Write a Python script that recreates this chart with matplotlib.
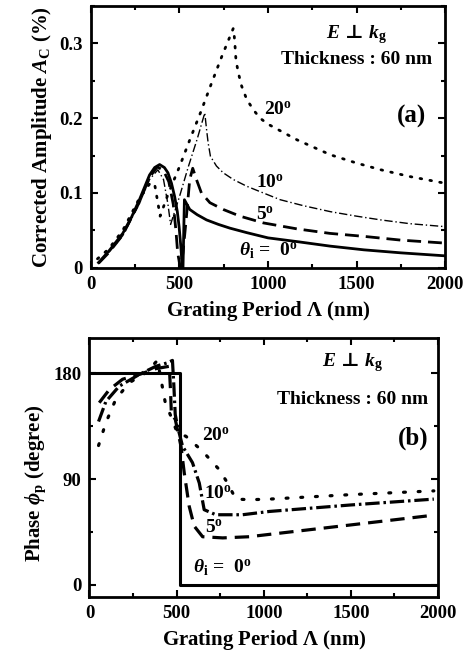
import matplotlib
matplotlib.use("Agg")
import matplotlib.pyplot as plt
from matplotlib.ticker import MultipleLocator

plt.rcParams['font.family'] = ['Liberation Serif', 'DejaVu Serif']
plt.rcParams['font.weight'] = 'bold'
plt.rcParams['mathtext.fontset'] = 'custom'
plt.rcParams['mathtext.rm'] = 'Liberation Serif:bold'
plt.rcParams['mathtext.it'] = 'Liberation Serif:italic:bold'
plt.rcParams['mathtext.bf'] = 'Liberation Serif:bold'
plt.rcParams['mathtext.sf'] = 'DejaVu Serif:bold'
plt.rcParams['mathtext.fallback'] = 'stix'

# ---------------- Data: panel (a) corrected amplitude ----------------
a0_x = [43, 100, 180, 230, 274, 331, 360, 388, 415, 435, 455, 473, 488, 498, 508, 516, 520, 528,
        558, 600, 653, 720, 785, 880, 1000, 1164, 1350, 1542, 1750, 2000]
a0_y = [0.007, 0.022, 0.046, 0.068, 0.091, 0.124, 0.134, 0.138, 0.134, 0.127, 0.113, 0.095, 0.075,
        0.055, 0.028, 0.0, 0.0, 0.091, 0.078, 0.071, 0.064, 0.058, 0.053, 0.047, 0.040, 0.035,
        0.029, 0.024, 0.020, 0.016]

a5_x = [43, 100, 180, 274, 331, 375, 410, 440, 465, 480, 490, 505, 520, 540, 558, 575, 596, 624,
        672, 747, 842, 974, 1164, 1350, 1542, 1750, 2000]
a5_y = [0.006, 0.020, 0.044, 0.088, 0.121, 0.135, 0.130, 0.115, 0.085, 0.050, 0.020, 0.0, 0.02,
        0.07, 0.118, 0.133, 0.118, 0.100, 0.087, 0.078, 0.069, 0.060, 0.052, 0.046, 0.042, 0.037,
        0.033]

a10_x = [43, 100, 180, 274, 331, 378, 410, 435, 450, 500, 550, 600, 643, 653, 662, 675, 709, 747,
         804, 880, 974, 1069, 1200, 1353, 1500, 1637, 1800, 2000]
a10_y = [0.006, 0.020, 0.043, 0.086, 0.118, 0.131, 0.118, 0.085, 0.058, 0.095, 0.135, 0.172, 0.207,
         0.185, 0.167, 0.149, 0.136, 0.127, 0.118, 0.109, 0.100, 0.091, 0.083, 0.075, 0.069, 0.064,
         0.059, 0.055]

a20_x = [37, 100, 180, 274, 331, 359, 378, 391, 435, 500, 560, 620, 680, 740, 804, 808, 814, 819,
         832, 851, 880, 918, 955, 1000, 1164, 1353, 1500, 1637, 1800, 2000]
a20_y = [0.012, 0.025, 0.050, 0.093, 0.112, 0.113, 0.087, 0.069, 0.098, 0.135, 0.172, 0.208, 0.246,
         0.283, 0.320, 0.314, 0.296, 0.278, 0.261, 0.243, 0.225, 0.211, 0.200, 0.192, 0.171, 0.151,
         0.140, 0.131, 0.122, 0.113]

# ---------------- Data: panel (b) phase ----------------
p0_x = [0, 520, 520, 2000]
p0_y = [180, 180, 0, 0]

p5_x = [56, 113, 190, 285, 381, 458, 465, 470, 492, 525, 544, 572, 601, 649, 764, 917, 1032, 1497, 1956]
p5_y = [155, 166, 175, 179, 184, 186, 165, 145, 141, 118, 95, 67, 50, 41, 40, 41, 43, 51, 59]

p10_x = [52, 94, 170, 285, 381, 448, 476, 484, 492, 505, 534, 591, 630, 658, 725, 878, 1032, 1497, 1976]
p10_y = [139, 156, 169, 179, 186, 189, 191, 170, 145, 135, 118, 104, 86.7, 64, 59.7, 59.7, 62.5, 68, 73]

p20_x = [52, 94, 151, 228, 324, 390, 410, 435, 467, 505, 553, 649, 745, 792, 840, 923, 1032, 1497, 1976]
p20_y = [118.6, 138, 158, 172, 180.6, 191, 175, 155, 143.6, 129, 126.5, 113.7, 98, 86.7, 73, 72.5, 73,
         76.8, 80]

x_ticks = [0, 500, 1000, 1500, 2000]
a_yticks = [0, 0.1, 0.2, 0.3]
a_yticklabels = ['0', '0.1', '0.2', '0.3']
p_yticks = [0, 90, 180]

fig = plt.figure(figsize=(4.71, 6.58), dpi=100)
ax1 = fig.add_axes([0.193, 0.593, 0.752, 0.398])
ax2 = fig.add_axes([0.190, 0.0932, 0.740, 0.393])

TICK_FS = 13.5
LABEL_FS = 15
ANN_FS = 14

def style(ax):
    for s in ax.spines.values():
        s.set_linewidth(2.0)
    ax.tick_params(which='both', direction='in', top=True, right=True, width=1.5,
                   labelsize=TICK_FS, pad=6)
    ax.tick_params(which='major', length=5)
    ax.tick_params(which='minor', length=3)
    ax.set_xlim(0, 2000)
    ax.set_xticks(x_ticks)
    ax.xaxis.set_minor_locator(MultipleLocator(250))
    for lab in ax.get_xticklabels() + ax.get_yticklabels():
        lab.set_fontweight('bold')

EK = r'$\mathit{E}\,\mathsf{\bot}\,\mathit{k}_\mathrm{g}$'

# Panel (a)
ax1.plot(a0_x, a0_y, color='black', lw=2.0, ls='-')
ax1.plot(a5_x, a5_y, color='black', lw=2.0, ls=(0, (5, 2.5)))
ax1.plot(a10_x, a10_y, color='black', lw=1.0, ls=(0, (6, 2, 1, 2)))
ax1.plot(a20_x, a20_y, color='black', lw=2.0, ls=(0, (0.6, 3)), dash_capstyle='round')
style(ax1)
ax1.set_ylim(0, 0.35)
ax1.set_yticks(a_yticks)
ax1.set_yticklabels(a_yticklabels)
ax1.yaxis.set_minor_locator(MultipleLocator(0.05))
ax1.set_ylabel(r'Corrected Amplitude $\mathit{A}_\mathrm{C}$ (%)', fontsize=LABEL_FS, fontweight='bold')
ax1.set_xlabel(r'Grating Period $\mathit{\Lambda}$ (nm)', fontsize=LABEL_FS, fontweight='bold')
ax1.text(1500, 0.312, EK, fontsize=ANN_FS, ha='center', va='center')
ax1.text(1500, 0.278, 'Thickness : 60 nm', fontsize=ANN_FS, ha='center', va='center', fontweight='bold')
ax1.text(1810, 0.202, '(a)', fontsize=18, ha='center', va='center', fontweight='bold')
ax1.text(1058, 0.2115, r'20$^\mathrm{o}$', fontsize=ANN_FS, ha='center', va='center', fontweight='bold')
ax1.text(1013, 0.114, r'10$^\mathrm{o}$', fontsize=ANN_FS, ha='center', va='center', fontweight='bold')
ax1.text(985, 0.071, r'5$^\mathrm{o}$', fontsize=ANN_FS, ha='center', va='center', fontweight='bold')
ax1.text(1000, 0.022, r'$\mathit{\theta}_\mathrm{i}$ =  0$^\mathrm{o}$', fontsize=ANN_FS, ha='center',
         va='center', fontweight='bold')

# Panel (b)
ax2.plot(p0_x, p0_y, color='black', lw=2.2, ls='-')
ax2.plot(p5_x, p5_y, color='black', lw=2.3, ls=(0, (4.5, 2.5)))
ax2.plot(p10_x, p10_y, color='black', lw=2.3, ls=(0, (4.5, 1.2, 0.8, 1.2)))
ax2.plot(p20_x, p20_y, color='black', lw=2.3, ls=(0, (0.6, 4)), dash_capstyle='round')
style(ax2)
ax2.set_ylim(-10, 210)
ax2.set_yticks(p_yticks)
ax2.yaxis.set_minor_locator(MultipleLocator(45))
ax2.set_ylabel(r'Phase $\mathit{\phi}_\mathrm{p}$ (degree)', fontsize=LABEL_FS, fontweight='bold')
ax2.yaxis.set_label_coords(-0.12, 0.44)
ax2.set_xlabel(r'Grating Period $\mathit{\Lambda}$ (nm)', fontsize=LABEL_FS, fontweight='bold')
ax2.text(1510, 190, EK, fontsize=ANN_FS, ha='center', va='center')
ax2.text(1510, 158, 'Thickness : 60 nm', fontsize=ANN_FS, ha='center', va='center', fontweight='bold')
ax2.text(1860, 125, '(b)', fontsize=18, ha='center', va='center', fontweight='bold')
ax2.text(724, 126.5, r'20$^\mathrm{o}$', fontsize=ANN_FS, ha='center', va='center', fontweight='bold')
ax2.text(739, 77.6, r'10$^\mathrm{o}$', fontsize=ANN_FS, ha='center', va='center', fontweight='bold')
ax2.text(716, 48.6, r'5$^\mathrm{o}$', fontsize=ANN_FS, ha='center', va='center', fontweight='bold')
ax2.text(762, 14.5, r'$\mathit{\theta}_\mathrm{i}$ =  0$^\mathrm{o}$', fontsize=ANN_FS, ha='center',
         va='center', fontweight='bold')

fig.savefig('out.png', dpi=100)
